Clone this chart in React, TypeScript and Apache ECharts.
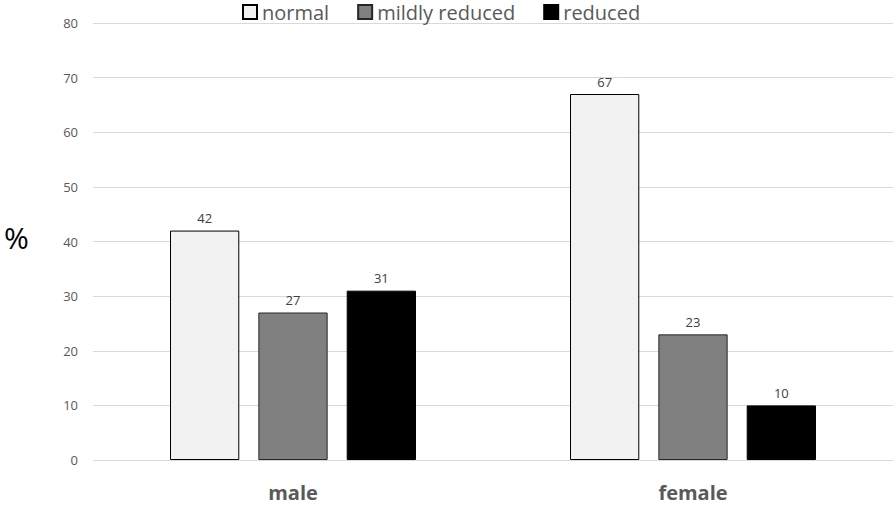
import React, { useEffect, useRef } from "react";
import * as echarts from "echarts";

const categories = ["male", "female"];
const seriesNames = ["normal", "mildly reduced", "reduced"];
const normalValues = [42, 67];
const mildlyValues = [27, 23];
const reducedValues = [31, 10];
const yTicks = [0, 10, 20, 30, 40, 50, 60, 70, 80];

const FONT = "'Open Sans', 'Noto Sans', sans-serif";

export default function App() {
  const ref = useRef<HTMLDivElement>(null);
  useEffect(() => {
    document.body.style.margin = "0";
    const chart = echarts.init(ref.current!, null, { renderer: "svg" });
    const label = {
      show: true,
      position: "top" as const,
      distance: 6,
      fontFamily: FONT,
      fontSize: 13,
      color: "#404040",
    };
    chart.setOption({
      animation: false,
      backgroundColor: "#ffffff",
      grid: { left: 93, right: 3, top: 23, bottom: 46, containLabel: false },
      legend: {
        data: seriesNames,
        top: 2,
        left: 242,
        padding: 0,
        itemWidth: 14,
        itemHeight: 14,
        itemGap: 28,
        icon: "rect",
        textStyle: { fontFamily: FONT, fontSize: 20, color: "#595959" },
      },
      graphic: [
        {
          type: "text",
          left: 4,
          top: 222,
          style: { text: "%", fontFamily: FONT, fontSize: 30, fill: "#000000" },
        },
      ],
      xAxis: {
        type: "category",
        data: categories,
        axisLine: { show: false },
        axisTick: { show: false },
        axisLabel: {
          fontFamily: FONT,
          fontSize: 20,
          fontWeight: "bold",
          color: "#595959",
          margin: 22,
        },
      },
      yAxis: {
        type: "value",
        min: yTicks[0],
        max: yTicks[yTicks.length - 1],
        interval: 10,
        axisLine: { show: false },
        axisTick: { show: false },
        axisLabel: { fontFamily: FONT, fontSize: 13, color: "#595959", margin: 15 },
        splitLine: { lineStyle: { color: "#d9d9d9", width: 1 } },
      },
      series: [
        {
          name: seriesNames[0],
          type: "bar",
          data: normalValues,
          barGap: "27.5%",
          barCategoryGap: "38.5%",
          itemStyle: { color: "#f2f2f2", borderColor: "#000000", borderWidth: 1 },
          label,
        },
        {
          name: seriesNames[1],
          type: "bar",
          data: mildlyValues,
          itemStyle: { color: "#808080", borderColor: "#262626", borderWidth: 1 },
          label,
        },
        {
          name: seriesNames[2],
          type: "bar",
          data: reducedValues,
          itemStyle: { color: "#000000", borderColor: "#000000", borderWidth: 1 },
          label,
        },
      ],
    });
    return () => chart.dispose();
  }, []);
  return (
    <div
      ref={ref}
      style={{ position: "absolute", left: 0, top: 0, width: 896, height: 506 }}
    />
  );
}
